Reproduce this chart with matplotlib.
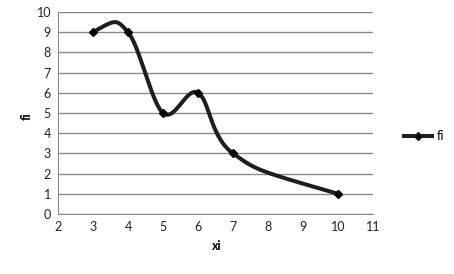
import numpy as np
import matplotlib
matplotlib.use("Agg")
import matplotlib.pyplot as plt
from matplotlib.lines import Line2D

xi = [3, 4, 5, 6, 7, 10]
fi = [9, 9, 5, 6, 3, 1]
x_ticks = [2, 3, 4, 5, 6, 7, 8, 9, 10, 11]
y_ticks = [0, 1, 2, 3, 4, 5, 6, 7, 8, 9, 10]


def smooth(xs, ys, n=80):
    """Spreadsheet-style smoothed line: cubic Bezier segments, Catmull-Rom tangents."""
    P = np.column_stack([xs, ys]).astype(float)
    m = len(P)
    out = []
    for i in range(m - 1):
        p1, p2 = P[i], P[i + 1]
        c1 = p1 + (p2 - P[i - 1]) / 6.0 if i > 0 else None
        c2 = p2 - (P[i + 2] - p1) / 6.0 if i + 2 < m else None
        if c1 is None:
            c1 = c2 if c2 is not None else p1
        if c2 is None:
            c2 = c1
        t = np.linspace(0, 1, n)[:, None]
        seg = ((1 - t) ** 3) * p1 + 3 * ((1 - t) ** 2) * t * c1 + 3 * (1 - t) * t ** 2 * c2 + t ** 3 * p2
        out.append(seg if i == 0 else seg[1:])
    s = np.vstack(out)
    return s[:, 0], s[:, 1]


plt.rcParams['font.family'] = ['Lato', 'DejaVu Sans']
fig = plt.figure(figsize=(4.54, 2.74), dpi=100)
ax = fig.add_axes([58 / 454, 1 - 214 / 274, (373 - 58) / 454, (214 - 12) / 274])

line_color = '#1e1e1e'
sx, sy = smooth(xi, fi)
ax.plot(sx, sy, color=line_color, lw=2.9, solid_capstyle='round', solid_joinstyle='round', zorder=3)
ax.plot(xi, fi, linestyle='none', marker='D', markersize=4.5, color='black', zorder=4)

ax.set_xlim(2, 11)
ax.set_ylim(0, 10)
ax.set_xticks(x_ticks)
ax.set_yticks(y_ticks)
ax.tick_params(length=0, labelsize=9, pad=5, colors='#222222')
ax.grid(axis='y', color='#8a8a8a', lw=1)
ax.set_axisbelow(True)
for s in ['top', 'right']:
    ax.spines[s].set_visible(False)
for s in ['left', 'bottom']:
    ax.spines[s].set_color('#8a8a8a')

fig.text(217 / 454, 1 - 246 / 274, 'xi', fontsize=9, fontweight='bold', ha='center', va='center')
fig.text(27 / 454, 1 - 116 / 274, 'fi', fontsize=9, fontweight='bold', rotation=90, ha='center', va='center')

handle = Line2D([], [], color=line_color, lw=2.9, marker='D', markersize=4.5, markerfacecolor='black')
fig.legend([handle], ['fi'], loc='center left', bbox_to_anchor=(398 / 454, 1 - 136 / 274),
           frameon=False, fontsize=9, handlelength=2.2, handletextpad=0.4, borderpad=0)

fig.savefig('out.png', dpi=100)
